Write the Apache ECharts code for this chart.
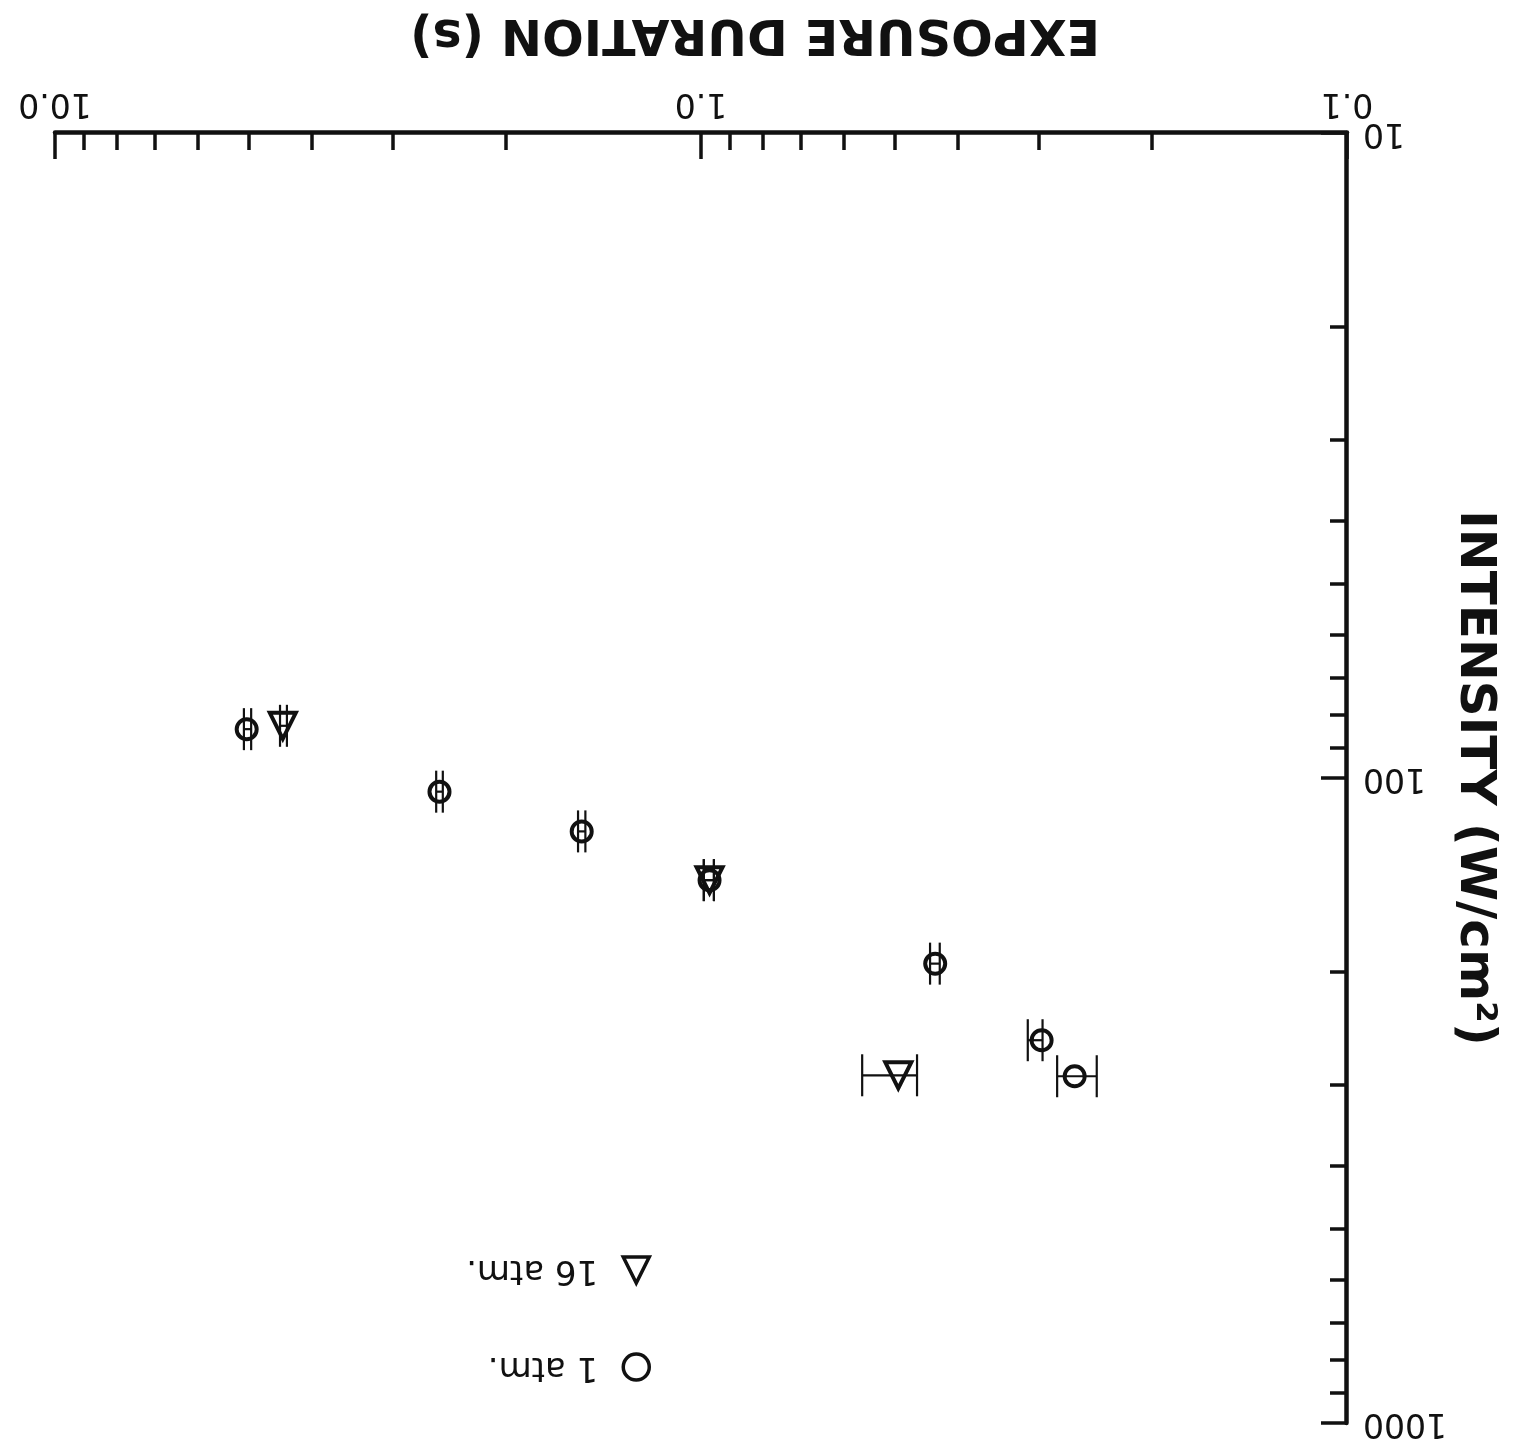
<!DOCTYPE html>
<html>
<head>
<meta charset="utf-8">
<title>Intensity vs exposure duration</title>
<script src="https://cdn.jsdelivr.net/npm/echarts@6/dist/echarts.min.js"></script>
<style>
  html, body { margin: 0; padding: 0; background: #fff; }
  /* the scanned figure sits upside down on the page, so draw it normally and turn it over */
  #chart { width: 1518px; height: 1455px; transform: rotate(180deg); }
</style>
</head>
<body>
<div id="chart"></div>
<script>
// ---------- data ----------
// exposure duration (s), intensity (W/cm2), duration error-bar ends (s)
var atm1Duration  = [5.05, 2.54, 1.53, 0.97, 0.434, 0.297, 0.264];
var atm1Intensity = [84, 105, 121, 144, 194, 255, 290];
var atm1Low       = [4.97, 2.51, 1.51, 0.955, 0.427, 0.296, 0.244];
var atm1High      = [5.10, 2.57, 1.55, 0.99, 0.442, 0.312, 0.281];

var atm16Duration  = [4.44, 0.97, 0.495];
var atm16Intensity = [83, 144, 289];
var atm16Low       = [4.375, 0.955, 0.463];
var atm16High      = [4.484, 0.99, 0.563];

var seriesNames = ['1 atm.', '16 atm.'];

var durationMajor  = [0.1, 1, 10];
var durationMinor  = [0.2, 0.3, 0.4, 0.5, 0.6, 0.7, 0.8, 0.9, 2, 3, 4, 5, 6, 7, 8, 9];
var intensityMajor = [10, 100, 1000];
var intensityMinor = [20, 30, 40, 50, 60, 70, 80, 90, 200, 300, 400, 500, 600, 700, 800, 900];

var INK = '#111';
var FONT = 'DejaVu Sans';

function pairs(xs, ys) {
  return xs.map(function (x, i) { return [x, ys[i]]; });
}

// horizontal error bar with tall end caps
function errorBars(dur, inten, low, high) {
  return {
    type: 'custom',
    silent: true,
    xAxisIndex: 0,
    yAxisIndex: 0,
    data: dur.map(function (d, i) { return [d, inten[i], low[i], high[i]]; }),
    encode: { x: [0, 2, 3], y: 1 },
    renderItem: function (params, api) {
      var y = api.value(1);
      var a = api.coord([api.value(2), y]);
      var b = api.coord([api.value(3), y]);
      var h = 21;
      var st = { stroke: INK, lineWidth: 2.2 };
      return {
        type: 'group',
        children: [
          { type: 'line', shape: { x1: a[0], y1: a[1], x2: b[0], y2: b[1] }, style: st },
          { type: 'line', shape: { x1: a[0], y1: a[1] - h, x2: a[0], y2: a[1] + h }, style: st },
          { type: 'line', shape: { x1: b[0], y1: b[1] - h, x2: b[0], y2: b[1] + h }, style: st }
        ]
      };
    },
    z: 3
  };
}

function logAxis(min, max, major, extra) {
  var ax = {
    type: 'log',
    logBase: 10,
    min: min,
    max: max,
    splitLine: { show: false },
    axisLine: { show: true, onZero: false, lineStyle: { color: INK, width: 4.5 } },
    axisTick: { show: true, inside: true, length: 26, customValues: major,
                lineStyle: { color: INK, width: 3.5 } },
    axisLabel: { show: true, customValues: major, margin: 14,
                 color: INK, fontFamily: FONT, fontSize: 33 }
  };
  for (var k in extra) ax[k] = extra[k];
  return ax;
}

function minorAxis(min, max, minor, pos) {
  return {
    type: 'log',
    logBase: 10,
    min: min,
    max: max,
    position: pos,
    splitLine: { show: false },
    axisLine: { show: false, onZero: false },
    axisTick: { show: true, inside: true, length: 17, customValues: minor,
                lineStyle: { color: INK, width: 3.5 } },
    axisLabel: { show: false }
  };
}

var chart = echarts.init(document.getElementById('chart'));

var xMain = logAxis(0.1, 10, durationMajor, {
  position: 'bottom',
  name: 'EXPOSURE DURATION (s)',
  nameLocation: 'middle',
  nameGap: 76,
  nameMoveOverlap: false,
  nameTextStyle: { color: INK, fontFamily: FONT, fontWeight: 'bold', fontSize: 49,
                   padding: [0, 108, 0, 0] }
});
xMain.axisLabel.formatter = function (v) { return Number(v).toFixed(1); };

var yMain = logAxis(10, 1000, intensityMajor, {
  position: 'left',
  name: 'INTENSITY (W/cm²)',
  nameLocation: 'middle',
  nameGap: 102,
  nameMoveOverlap: false,
  nameTextStyle: { color: INK, fontFamily: FONT, fontWeight: 'bold', fontSize: 50 }
});
yMain.axisLabel.margin = 16;
yMain.axisLabel.formatter = function (v) { return String(Math.round(v)); };

chart.setOption({
  animation: false,
  backgroundColor: '#fff',
  grid: { left: 171, right: 55, top: 32, bottom: 133, outerBoundsMode: 'none' },
  legend: {
    data: seriesNames,
    orient: 'vertical',
    left: 867,
    top: 71,
    padding: 0,
    itemGap: 63,
    itemWidth: 26,
    itemHeight: 26,
    selectedMode: false,
    itemStyle: { borderWidth: 3.5 },
    textStyle: { color: INK, fontFamily: FONT, fontSize: 34, padding: [0, 0, 0, 20] }
  },
  xAxis: [xMain, minorAxis(0.1, 10, durationMinor, 'bottom')],
  yAxis: [yMain, minorAxis(10, 1000, intensityMinor, 'left')],
  series: [
    errorBars(atm1Duration, atm1Intensity, atm1Low, atm1High),
    errorBars(atm16Duration, atm16Intensity, atm16Low, atm16High),
    {
      name: seriesNames[0],
      type: 'scatter',
      xAxisIndex: 0,
      yAxisIndex: 0,
      symbol: 'circle',
      symbolSize: 20,
      itemStyle: { color: 'rgba(0,0,0,0)', borderColor: INK, borderWidth: 4, opacity: 1 },
      data: pairs(atm1Duration, atm1Intensity),
      z: 4
    },
    {
      name: seriesNames[1],
      type: 'scatter',
      xAxisIndex: 0,
      yAxisIndex: 0,
      symbol: 'triangle',
      symbolSize: 26,
      itemStyle: { color: 'rgba(0,0,0,0)', borderColor: INK, borderWidth: 4, opacity: 1 },
      data: pairs(atm16Duration, atm16Intensity),
      z: 4
    }
  ]
});
</script>
</body>
</html>
